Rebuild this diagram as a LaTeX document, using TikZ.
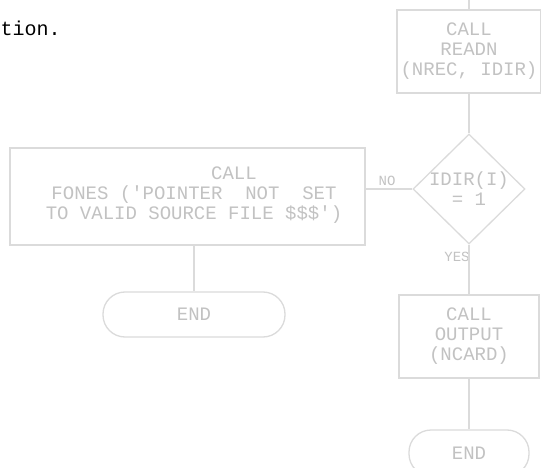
\documentclass[tikz,border=0pt]{standalone}
\usepackage{fontspec}
\setmonofont{Liberation Mono}
\usetikzlibrary{shapes.geometric}
\definecolor{lgray}{gray}{0.86}
\definecolor{tgray}{gray}{0.76}
\begin{document}
\begin{tikzpicture}[x=1pt,y=-1pt,
  ln/.style={draw=lgray, line width=1.3pt},
  tx/.style={text=tgray, font=\ttfamily\fontsize{19}{20}\selectfont, align=center, inner sep=0pt},
  box/.style={ln, rectangle, inner sep=0pt},
  term/.style={ln, rectangle, rounded corners=22pt, inner sep=0pt},
  dia/.style={ln, diamond, inner sep=0pt},
  lab/.style={text=tgray, font=\ttfamily\fontsize{14}{15}\selectfont, inner sep=0pt}]
\useasboundingbox (0,0) rectangle (541,468);
\fill[white] (0,0) rectangle (541,468);
% running text
\node[anchor=base west, inner sep=0pt, font=\ttfamily\fontsize{20}{22}\selectfont] (tion) at (0.5,36) {tion.};
% top box
\node[box, minimum width=144pt, minimum height=83pt] (b1) at (469,51.5) {};
\node[tx] (b1t) at (b1) {CALL\\READN\\(NREC, IDIR)};
\coordinate (t0) at (469,0);
% diamond
\node[dia, minimum width=112pt, minimum height=110pt] (d) at (469,189) {};
\node[tx] (dt) at (d) {IDIR(I)\\= 1};
% left box
\node[box, minimum width=355pt, minimum height=97pt] (b2) at (187.5,196.5) {};
\node[tx] (b2t) at (194,195) {\hspace*{80pt}CALL\\FONES~('POINTER~~NOT~~SET\\TO VALID SOURCE FILE \$\$\$')};
% end left
\node[term, minimum width=182pt, minimum height=45pt] (e1) at (194,314.5) {};
\node[tx] (e1t) at (e1) {END};
% bottom box
\node[box, minimum width=140pt, minimum height=83pt] (b3) at (469,336.5) {};
\node[tx] (b3t) at (b3) {CALL\\OUTPUT\\(NCARD)};
% end bottom
\node[term, minimum width=120pt, minimum height=46pt] (e2) at (469,453) {};
\node[tx] (e2t) at (e2) {END};
% labels
\node[lab] (no) at (387,181) {NO};
\node[lab] (yes) at (457,257) {YES};
% connectors
\draw[lgray, line width=1.3pt] (t0) -- (b1.north);
\draw[lgray, line width=1.3pt] (b1.south) -- (d.north);
\draw[lgray, line width=1.3pt] (d.west) -- (d.west -| b2.east);
\draw[lgray, line width=1.3pt] (d.south) -- (b3.north);
\draw[lgray, line width=1.3pt] (b3.south) -- (e2.north);
\draw[lgray, line width=1.3pt] (e1.north |- b2.south) -- (e1.north);
\end{tikzpicture}
\end{document}
